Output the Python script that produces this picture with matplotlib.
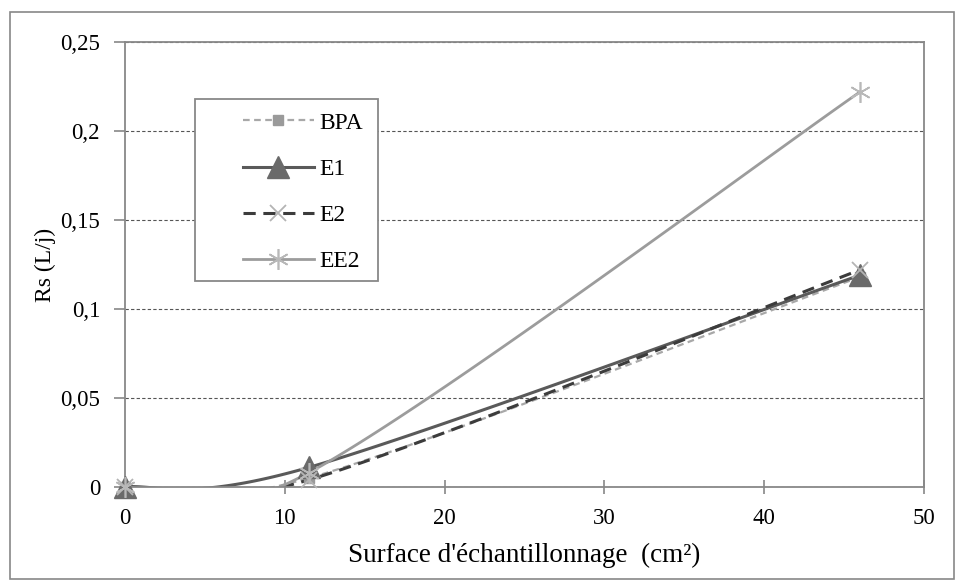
import numpy as np
import matplotlib.pyplot as plt
from matplotlib.patches import Rectangle
from matplotlib.lines import Line2D

plt.rcParams['font.family'] = ['Liberation Serif', 'DejaVu Serif']

# donnees
surface = [0, 11.5, 46]
rs_bpa = [0, 0.005, 0.118]
rs_e1 = [0, 0.011, 0.119]
rs_e2 = [0, 0.004, 0.122]
rs_ee2 = [0, 0.008, 0.222]
series_names = ['BPA', 'E1', 'E2', 'EE2']
xticks = [0, 10, 20, 30, 40, 50]
yticks = [0, 0.05, 0.1, 0.15, 0.2, 0.25]
ytick_labels = ['0', '0,05', '0,1', '0,15', '0,2', '0,25']

W, H = 958, 583


def smooth(x, y, n=60):
    # courbe lissee facon Excel (Bezier / Catmull-Rom)
    x = np.asarray(x, float)
    y = np.asarray(y, float)
    px = np.concatenate([[x[0]], x, [x[-1]]])
    py = np.concatenate([[y[0]], y, [y[-1]]])
    xs, ys = [], []
    for i in range(len(x) - 1):
        p0 = np.array([px[i], py[i]])
        p1 = np.array([px[i + 1], py[i + 1]])
        p2 = np.array([px[i + 2], py[i + 2]])
        p3 = np.array([px[i + 3], py[i + 3]])
        c1 = p1 + (p2 - p0) / 6
        c2 = p2 - (p3 - p1) / 6
        t = np.linspace(0, 1, n)[:, None]
        b = (1 - t) ** 3 * p1 + 3 * (1 - t) ** 2 * t * c1 + 3 * (1 - t) * t ** 2 * c2 + t ** 3 * p2
        xs.extend(b[:, 0])
        ys.extend(b[:, 1])
    return np.array(xs), np.array(ys)


fig = plt.figure(figsize=(W / 100, H / 100), dpi=100)
ax = fig.add_axes([125 / W, 1 - 487 / H, 799 / W, 445 / H])

line_st = [
    dict(color='#a8a8a8', ls=(0, (3, 2)), lw=1.6),
    dict(color='#5a5a5a', ls='-', lw=2.2),
    dict(color='#3c3c3c', ls=(0, (4, 2.5)), lw=2.2),
    dict(color='#9c9c9c', ls='-', lw=2.0),
]
mark_st = [
    dict(marker='s', ms=7, mfc='#9a9a9a', mec='#9a9a9a'),
    dict(marker='^', ms=16, mfc='#6a6a6a', mec='#6a6a6a'),
    dict(marker='x', ms=12, mfc='#b4b4b4', mec='#b4b4b4', mew=1.3),
    dict(marker=(6, 2, 0), ms=15, mfc='#b8b8b8', mec='#b8b8b8', mew=1.2),
]

handles = []
for name, vals, ls_, ms_ in zip(series_names, [rs_bpa, rs_e1, rs_e2, rs_ee2], line_st, mark_st):
    xs, ys = smooth(surface, vals)
    ax.plot(xs, ys, **ls_)
    ax.plot(surface, vals, ls='none', clip_on=False, zorder=3, **ms_)
    handles.append(Line2D([], [], label=name, **ls_, **ms_))

ax.set_xlim(0, 50)
ax.set_ylim(0, 0.25)
ax.set_xticks(xticks)
ax.set_yticks(yticks)
ax.set_yticklabels(ytick_labels)
ax.tick_params(labelsize=16.5, color='#888888', width=1.2)
ax.tick_params(axis='x', direction='inout', length=10, pad=10)
ax.tick_params(axis='y', direction='out', length=8, pad=10)
ax.grid(axis='y', ls=(0, (3, 2)), color='#555555', lw=0.8)
for s in ax.spines.values():
    s.set_color('#888888')
    s.set_linewidth(1.3)

ax.set_xlabel("Surface d'échantillonnage  (cm²)", fontsize=19.5, labelpad=10)
ax.set_ylabel('Rs (L/j)', fontsize=17, labelpad=3)

# legende sans cadre + cadre dessine a la main
leg = fig.legend(handles=handles, loc='upper left', bbox_to_anchor=(243 / W, 1 - 112 / H),
                 fontsize=17, frameon=False, borderpad=0, borderaxespad=0,
                 handlelength=3.0, handletextpad=0.25, labelspacing=1.05)
box = Rectangle((195 / W, 1 - 281 / H), 183 / W, 182 / H, transform=fig.transFigure,
                facecolor='white', edgecolor='#888888', lw=1.3, zorder=5)
fig.patches.append(box)
leg.set_zorder(10)

fig.patches.append(Rectangle((10 / W, 4 / H), 944 / W, 567 / H, transform=fig.transFigure,
                             fill=False, edgecolor='#888888', lw=1.2))

fig.savefig('out.png', dpi=100)
